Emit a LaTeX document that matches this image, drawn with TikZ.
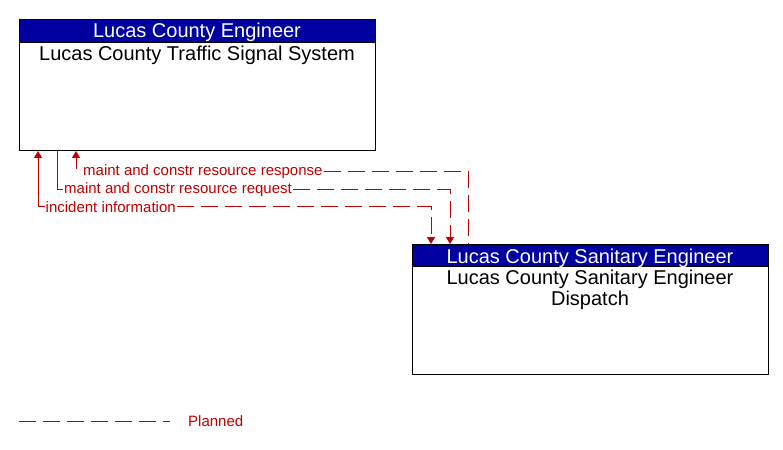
\documentclass[tikz,border=0pt]{standalone}
\usepackage{fontspec}
\setmainfont{Liberation Sans}
\usetikzlibrary{arrows.meta}
\definecolor{hdr}{RGB}{0,0,160}
\definecolor{flow}{RGB}{192,0,0}
\tikzset{
  boxframe/.style={draw=black, line width=1pt, fill=white, anchor=north west, minimum width=356pt, inner sep=0pt},
  boxhead/.style={draw=black, line width=1pt, fill=hdr, anchor=north west, minimum width=356pt, inner sep=0pt},
  headtext/.style={anchor=base, text=white, inner sep=0pt, font=\fontsize{20}{24}\selectfont},
  bodytext/.style={anchor=base, text=black, inner sep=0pt, font=\fontsize{20}{24}\selectfont},
  flowline/.style={draw=flow, line width=1pt, dash pattern=on 17pt off 7pt},
  solidflow/.style={draw=flow, line width=1pt},
  tip/.style={-{Triangle[width=8pt,length=7pt]}},
  rtip/.style={{Triangle[width=8pt,length=7pt]}-},
  lbl/.style={anchor=base west, text=flow, inner sep=1pt, font=\fontsize{15}{18}\selectfont},
}
\begin{document}
\begin{tikzpicture}[x=1pt,y=-1pt]
\useasboundingbox (0,0) rectangle (783,449);
% top box
\node[boxframe, minimum height=131pt] (tse) at (19,19) {};
\node[boxhead, minimum height=23pt] (tseh) at (19,19) {};
\node[headtext] (tseht) at (197,37.3) {Lucas County Engineer};
\node[bodytext] (tsebt) at (197,60.7) {Lucas County Traffic Signal System};
% bottom box
\node[boxframe, minimum height=130pt] (bse) at (412,244) {};
\node[boxhead, minimum height=22pt] (bseh) at (412,244) {};
\node[headtext] (bseht) at (590,263) {Lucas County Sanitary Engineer};
\node[bodytext] (bsebt1) at (590,284) {Lucas County Sanitary Engineer};
\node[bodytext] (bsebt2) at (590,305.5) {Dispatch};
% connector points
\coordinate (t1) at ([xshift=19pt]tse.south west);
\coordinate (t2) at ([xshift=38pt]tse.south west);
\coordinate (t3) at ([xshift=57pt]tse.south west);
\coordinate (b1) at ([xshift=19pt]bseh.north west);
\coordinate (b2) at ([xshift=38pt]bseh.north west);
\coordinate (b3) at ([xshift=56pt]bseh.north west);
% labels
\node[lbl] (l3) at (82,175.3) {maint and constr resource response};
\node[lbl] (l2) at (63,193.8) {maint and constr resource request};
\node[lbl] (l1) at (44.5,212.3) {incident information};
% flows
\coordinate (c3) at ([yshift=-18pt]t3);
\draw[solidflow, tip] (c3) -- (t3);
\draw[flowline] (l3.east) -| (b3);
\draw[solidflow] (t2) |- (l2.west);
\draw[flowline, tip] (l2.east) -| (b2);
\draw[solidflow, rtip] (t1) |- (l1.west);
\draw[flowline, tip] (l1.east) -| (b1);
% legend
\coordinate (lg1) at (19,421);
\coordinate (lg2) at (170,421);
\draw[flowline] (lg1) -- (lg2);
\node[anchor=base west, text=flow, inner sep=0pt, font=\fontsize{15}{18}\selectfont] (lgt) at (188,426.3) {Planned};
\end{tikzpicture}
\end{document}
